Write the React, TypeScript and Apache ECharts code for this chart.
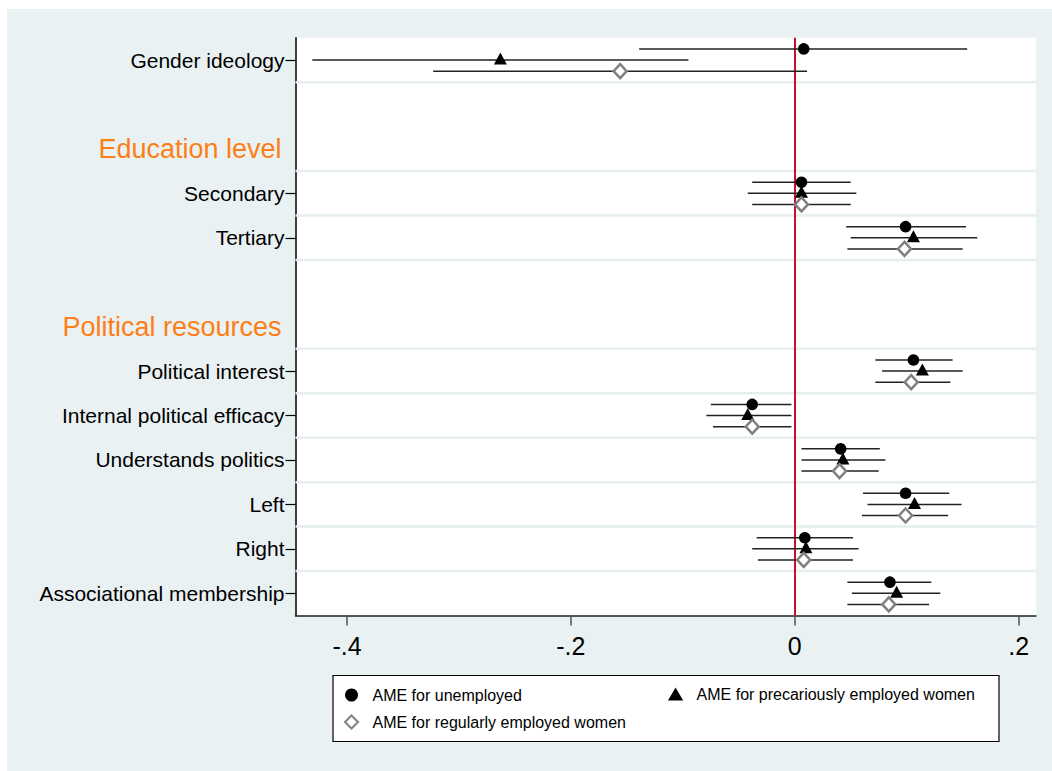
import React, { useEffect, useRef } from "react";
import * as echarts from "echarts";

const FONT = "'Liberation Sans', Arial, Helvetica, sans-serif";
const ORANGE = "#fd7e14";

// Rows of the y axis (top to bottom). Gap rows are blank.
const rows = [
  "Gender ideology",
  "_gap1",
  "Education level",
  "Secondary",
  "Tertiary",
  "_gap2",
  "Political resources",
  "Political interest",
  "Internal political efficacy",
  "Understands politics",
  "Left",
  "Right",
  "Associational membership",
];
const headers = ["Education level", "Political resources"];
const items = [
  "Gender ideology",
  "Secondary",
  "Tertiary",
  "Political interest",
  "Internal political efficacy",
  "Understands politics",
  "Left",
  "Right",
  "Associational membership",
];

const seriesNames = [
  "AME for unemployed",
  "AME for precariously employed women",
  "AME for regularly employed women",
];

// Estimates and 95% CIs, in the order of `items`
const unempEst = [0.008, 0.006, 0.099, 0.106, -0.038, 0.041, 0.099, 0.009, 0.085];
const unempLo = [-0.139, -0.038, 0.046, 0.072, -0.075, 0.006, 0.061, -0.034, 0.047];
const unempHi = [0.154, 0.050, 0.153, 0.141, -0.003, 0.076, 0.138, 0.052, 0.122];

const precEst = [-0.263, 0.006, 0.106, 0.114, -0.042, 0.043, 0.107, 0.010, 0.091];
const precLo = [-0.431, -0.042, 0.050, 0.078, -0.079, 0.006, 0.065, -0.038, 0.051];
const precHi = [-0.095, 0.055, 0.163, 0.150, -0.003, 0.081, 0.149, 0.057, 0.130];

const regEst = [-0.156, 0.006, 0.098, 0.104, -0.038, 0.040, 0.099, 0.008, 0.084];
const regLo = [-0.323, -0.038, 0.047, 0.072, -0.073, 0.006, 0.060, -0.033, 0.047];
const regHi = [0.011, 0.050, 0.150, 0.139, -0.003, 0.075, 0.137, 0.052, 0.120];

const xTicks = [-0.4, -0.2, 0, 0.2];
const xTickLabels = ["-.4", "-.2", "0", ".2"];

const isGap = (r: string) => r.startsWith("_gap");
const isHeader = (r: string) => headers.includes(r);
const isItem = (r: string) => items.includes(r);

function buildData(est: number[], lo: number[], hi: number[]) {
  return items.map((name, i) => [est[i], lo[i], hi[i], rows.indexOf(name)]);
}

export default function App() {
  const ref = useRef<HTMLDivElement>(null);

  useEffect(() => {
    if (!ref.current) return;
    const chart = echarts.init(ref.current, null, { renderer: "svg" });

    const markerRender = (kind: "circle" | "triangle" | "diamond", offset: number) =>
      (params: any, api: any) => {
        const est = api.value(0);
        const lo = api.value(1);
        const hi = api.value(2);
        const row = api.value(3);
        const c = api.coord([est, row]);
        const band = api.size([0, 1])[1];
        const y = c[1] + offset * band;
        const xl = api.coord([lo, row])[0];
        const xh = api.coord([hi, row])[0];
        const x = c[0];
        let marker: any;
        if (kind === "circle") {
          marker = { type: "circle", shape: { cx: x, cy: y, r: 5.8 }, style: { fill: "#000" } };
        } else if (kind === "triangle") {
          marker = {
            type: "polygon",
            shape: { points: [[x, y - 7.5], [x + 6.5, y + 4.5], [x - 6.5, y + 4.5]] },
            style: { fill: "#000" },
          };
        } else {
          marker = {
            type: "polygon",
            shape: { points: [[x, y - 7], [x + 6.5, y], [x, y + 7], [x - 6.5, y]] },
            style: { fill: "#fff", stroke: "#808080", lineWidth: 2.5 },
          };
        }
        return {
          type: "group",
          children: [
            {
              type: "line",
              shape: { x1: xl, y1: y, x2: xh, y2: y },
              style: { stroke: "#222", lineWidth: 1.5 },
            },
            marker,
          ],
        };
      };

    const gridRows = rows
      .map((r, i) => ({ r, i }))
      .filter(({ r, i }) => i > 0 && !isHeader(r))
      .map(({ i }) => [0, i]);

    const legendText = { fontSize: 16, color: "#000", fontFamily: FONT };

    const option: any = {
      animation: false,
      backgroundColor: "#eaf1f3",
      textStyle: { fontFamily: FONT },
      grid: {
        left: 288.5,
        right: 16,
        top: 28.8,
        bottom: 155.5,
        show: true,
        backgroundColor: "#ffffff",
        borderWidth: 0,
      },
      xAxis: {
        type: "value",
        min: -0.446,
        max: 0.2155,
        axisLine: { show: true, onZero: false, lineStyle: { color: "#222", width: 1.5 } },
        axisTick: {
          show: true,
          customValues: xTicks,
          length: 10,
          lineStyle: { color: "#555", width: 1.5 },
        },
        axisLabel: {
          customValues: xTicks,
          formatter: (v: number) => {
            const idx = xTicks.findIndex((t) => Math.abs(t - v) < 1e-9);
            return idx >= 0 ? xTickLabels[idx] : "";
          },
          fontSize: 25,
          color: "#000",
          margin: 18,
          fontFamily: FONT,
        },
        splitLine: { show: false },
      },
      yAxis: {
        type: "category",
        inverse: true,
        data: rows,
        boundaryGap: true,
        axisLine: { show: true, onZero: false, lineStyle: { color: "#000", width: 1.5 } },
        axisTick: {
          show: true,
          alignWithLabel: true,
          length: 10,
          interval: (index: number, value: string) => isItem(value),
          lineStyle: { color: "#000", width: 1.2 },
        },
        axisLabel: {
          interval: 0,
          fontSize: 21,
          color: "#000",
          margin: 11,
          fontFamily: FONT,
          formatter: (v: string) => (isGap(v) ? "" : isHeader(v) ? `{h|${v}}` : v),
          rich: { h: { fontSize: 27, color: ORANGE, fontFamily: FONT, padding: [0, 3, 0, 0] } },
        },
        splitLine: { show: false },
      },
      legend: [
        {
          orient: "vertical",
          left: 337,
          top: 678,
          padding: 0,
          itemWidth: 32,
          itemHeight: 13,
          itemGap: 11,
          selectedMode: false,
          textStyle: legendText,
          data: [
            { name: seriesNames[0], icon: "circle", itemStyle: { color: "#000" } },
            {
              name: seriesNames[2],
              icon: "path://M7,0 L14,7 L7,14 L0,7 Z",
              itemStyle: { color: "#fff", borderColor: "#808080", borderWidth: 2 },
            },
          ],
        },
        {
          orient: "vertical",
          left: 661,
          top: 677,
          padding: 0,
          itemWidth: 32,
          itemHeight: 13,
          itemGap: 11,
          selectedMode: false,
          textStyle: legendText,
          data: [
            {
              name: seriesNames[1],
              icon: "path://M7,0 L14,12 L0,12 Z",
              itemStyle: { color: "#000" },
            },
          ],
        },
      ],
      graphic: [
        {
          type: "rect",
          shape: { x: 326, y: 666.5, width: 666, height: 66 },
          style: { fill: "#fff", stroke: "#000", lineWidth: 1.2 },
          z: 0,
          silent: true,
        },
      ],
      series: [
        {
          type: "custom",
          name: "grid",
          z: 1,
          silent: true,
          encode: { x: 0, y: 1 },
          data: gridRows,
          renderItem: (params: any, api: any) => {
            const cs = params.coordSys;
            const band = api.size([0, 1])[1];
            const y = api.coord([0, api.value(1)])[1] - band / 2;
            return {
              type: "line",
              shape: { x1: cs.x, y1: y, x2: cs.x + cs.width, y2: y },
              style: { stroke: "#e6eef0", lineWidth: 2.5 },
            };
          },
          markLine: {
            silent: true,
            z: 2,
            symbol: ["none", "none"],
            label: { show: false },
            lineStyle: { color: "#c8102e", width: 2, type: "solid" },
            data: [{ xAxis: 0 }],
          },
        },
        {
          type: "custom",
          name: seriesNames[0],
          z: 3,
          itemStyle: { color: "#000" },
          encode: { x: [0, 1, 2], y: 3 },
          data: buildData(unempEst, unempLo, unempHi),
          renderItem: markerRender("circle", -0.25),
        },
        {
          type: "custom",
          name: seriesNames[1],
          z: 3,
          itemStyle: { color: "#000" },
          encode: { x: [0, 1, 2], y: 3 },
          data: buildData(precEst, precLo, precHi),
          renderItem: markerRender("triangle", 0),
        },
        {
          type: "custom",
          name: seriesNames[2],
          z: 3,
          itemStyle: { color: "#808080" },
          encode: { x: [0, 1, 2], y: 3 },
          data: buildData(regEst, regLo, regHi),
          renderItem: markerRender("diamond", 0.25),
        },
      ],
    };

    chart.setOption(option);
    return () => chart.dispose();
  }, []);

  return (
    <div
      ref={ref}
      style={{ position: "absolute", left: 7, top: 9, width: 1045, height: 762 }}
    />
  );
}
